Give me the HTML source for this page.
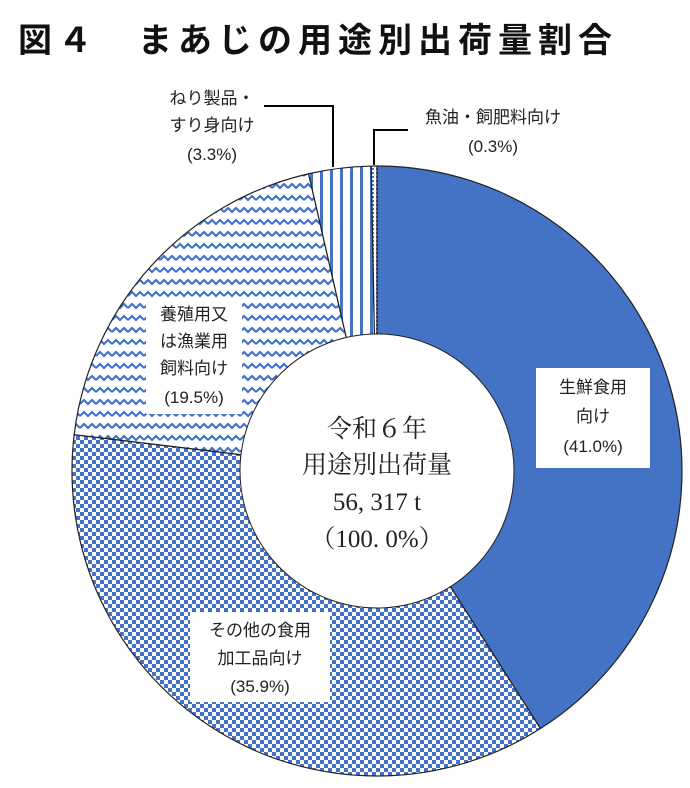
<!DOCTYPE html>
<html><head><meta charset="utf-8"><style>
html,body{margin:0;padding:0;background:#fff;}
svg{display:block;}
.lbl{font-family:"Liberation Sans","Noto Sans CJK JP",sans-serif;font-size:17px;fill:#222;text-anchor:middle;}
.ctr{font-family:"Liberation Serif","Noto Serif CJK SC",serif;font-size:25px;fill:#222;text-anchor:middle;}
</style></head><body>
<svg id="chart" width="690" height="788" viewBox="0 0 690 788" xmlns="http://www.w3.org/2000/svg">
<defs>
<pattern id="pChk" width="8" height="8" patternUnits="userSpaceOnUse">
<rect width="8" height="8" fill="#fff"/><rect width="4" height="4" fill="#4472C4"/><rect x="4" y="4" width="4" height="4" fill="#4472C4"/>
</pattern>
<pattern id="pWave" width="16" height="12" patternUnits="userSpaceOnUse">
<rect width="16" height="12" fill="#fff"/><path d="M0 8 L4 4 L8 8 L12 4 L16 8" fill="none" stroke="#4472C4" stroke-width="2.2"/>
</pattern>
<pattern id="pVert" width="10" height="10" patternUnits="userSpaceOnUse">
<rect width="10" height="10" fill="#fff"/><rect width="3" height="10" fill="#4472C4"/>
</pattern>
<pattern id="pDot" width="4" height="4" patternUnits="userSpaceOnUse">
<rect width="4" height="4" fill="#fff"/><rect width="2" height="2" fill="#4472C4"/>
</pattern>
</defs>
<text x="18" y="52" style="font-family:'Liberation Sans','Noto Sans CJK JP',sans-serif;font-size:34px;font-weight:bold;letter-spacing:6px" fill="#111">図４　まあじの用途別出荷量割合</text>
<g id="slices"></g>
<circle cx="377" cy="471" r="137" fill="#fff" stroke="#222" stroke-width="1"/>
<g>
<text class="ctr" x="377" y="437">令和６年</text>
<text class="ctr" x="377" y="473">用途別出荷量</text>
<text class="ctr" x="377" y="510">56, 317 t</text>
<text class="ctr" x="377" y="547">（100. 0%）</text>
</g>
<g>
<rect x="536" y="368" width="114" height="100" fill="#fff"/>
<text class="lbl" x="593" y="393">生鮮食用</text>
<text class="lbl" x="593" y="422">向け</text>
<text class="lbl" x="593" y="452">(41.0%)</text>
</g>
<g>
<rect x="190" y="612" width="140" height="90" fill="#fff"/>
<text class="lbl" x="260" y="636">その他の食用</text>
<text class="lbl" x="260" y="664">加工品向け</text>
<text class="lbl" x="260" y="692">(35.9%)</text>
</g>
<g>
<rect x="146" y="298" width="96" height="116" fill="#fff"/>
<text class="lbl" x="194" y="320">養殖用又</text>
<text class="lbl" x="194" y="347">は漁業用</text>
<text class="lbl" x="194" y="374">飼料向け</text>
<text class="lbl" x="194" y="403">(19.5%)</text>
</g>
<g>
<text class="lbl" x="212" y="104">ねり製品・</text>
<text class="lbl" x="212" y="131">すり身向け</text>
<text class="lbl" x="212" y="160">(3.3%)</text>
<polyline points="264,106 333,106 333,167" fill="none" stroke="#000" stroke-width="2"/>
</g>
<g>
<text class="lbl" x="493" y="123">魚油・飼肥料向け</text>
<text class="lbl" x="493" y="152">(0.3%)</text>
<polyline points="408,130 374,130 374,165" fill="none" stroke="#000" stroke-width="2"/>
</g>
</svg>
<script>
const categories = ["生鮮食用向け", "その他の食用加工品向け", "養殖用又は漁業用飼料向け", "ねり製品・すり身向け", "魚油・飼肥料向け"];
const shares = [41.0, 35.9, 19.5, 3.3, 0.3];
const sliceNames = ["slice-fresh", "slice-processed", "slice-feed", "slice-surimi", "slice-fishoil"];
const fills = ["#4472C4", "url(#pChk)", "url(#pWave)", "url(#pVert)", "url(#pDot)"];
const cx = 377, cy = 471, R = 305;
const total = shares.reduce((a, b) => a + b, 0);
function angle(v) { return v / total * 2 * Math.PI - Math.PI / 2; }
const g = document.getElementById('slices');
let cum = 0;
shares.forEach((v, i) => {
  const a0 = angle(cum), a1 = angle(cum + v);
  cum += v;
  const large = (a1 - a0) > Math.PI ? 1 : 0;
  const d = `M${cx},${cy} L${cx + R * Math.cos(a0)},${cy + R * Math.sin(a0)} A${R},${R} 0 ${large} 1 ${cx + R * Math.cos(a1)},${cy + R * Math.sin(a1)} Z`;
  const p = document.createElementNS('http://www.w3.org/2000/svg', 'path');
  p.setAttribute('d', d);
  p.setAttribute('fill', fills[i]);
  p.setAttribute('stroke', '#222');
  p.setAttribute('stroke-width', '1.2');
  
  
  g.appendChild(p);
});
</script>
</body></html>
